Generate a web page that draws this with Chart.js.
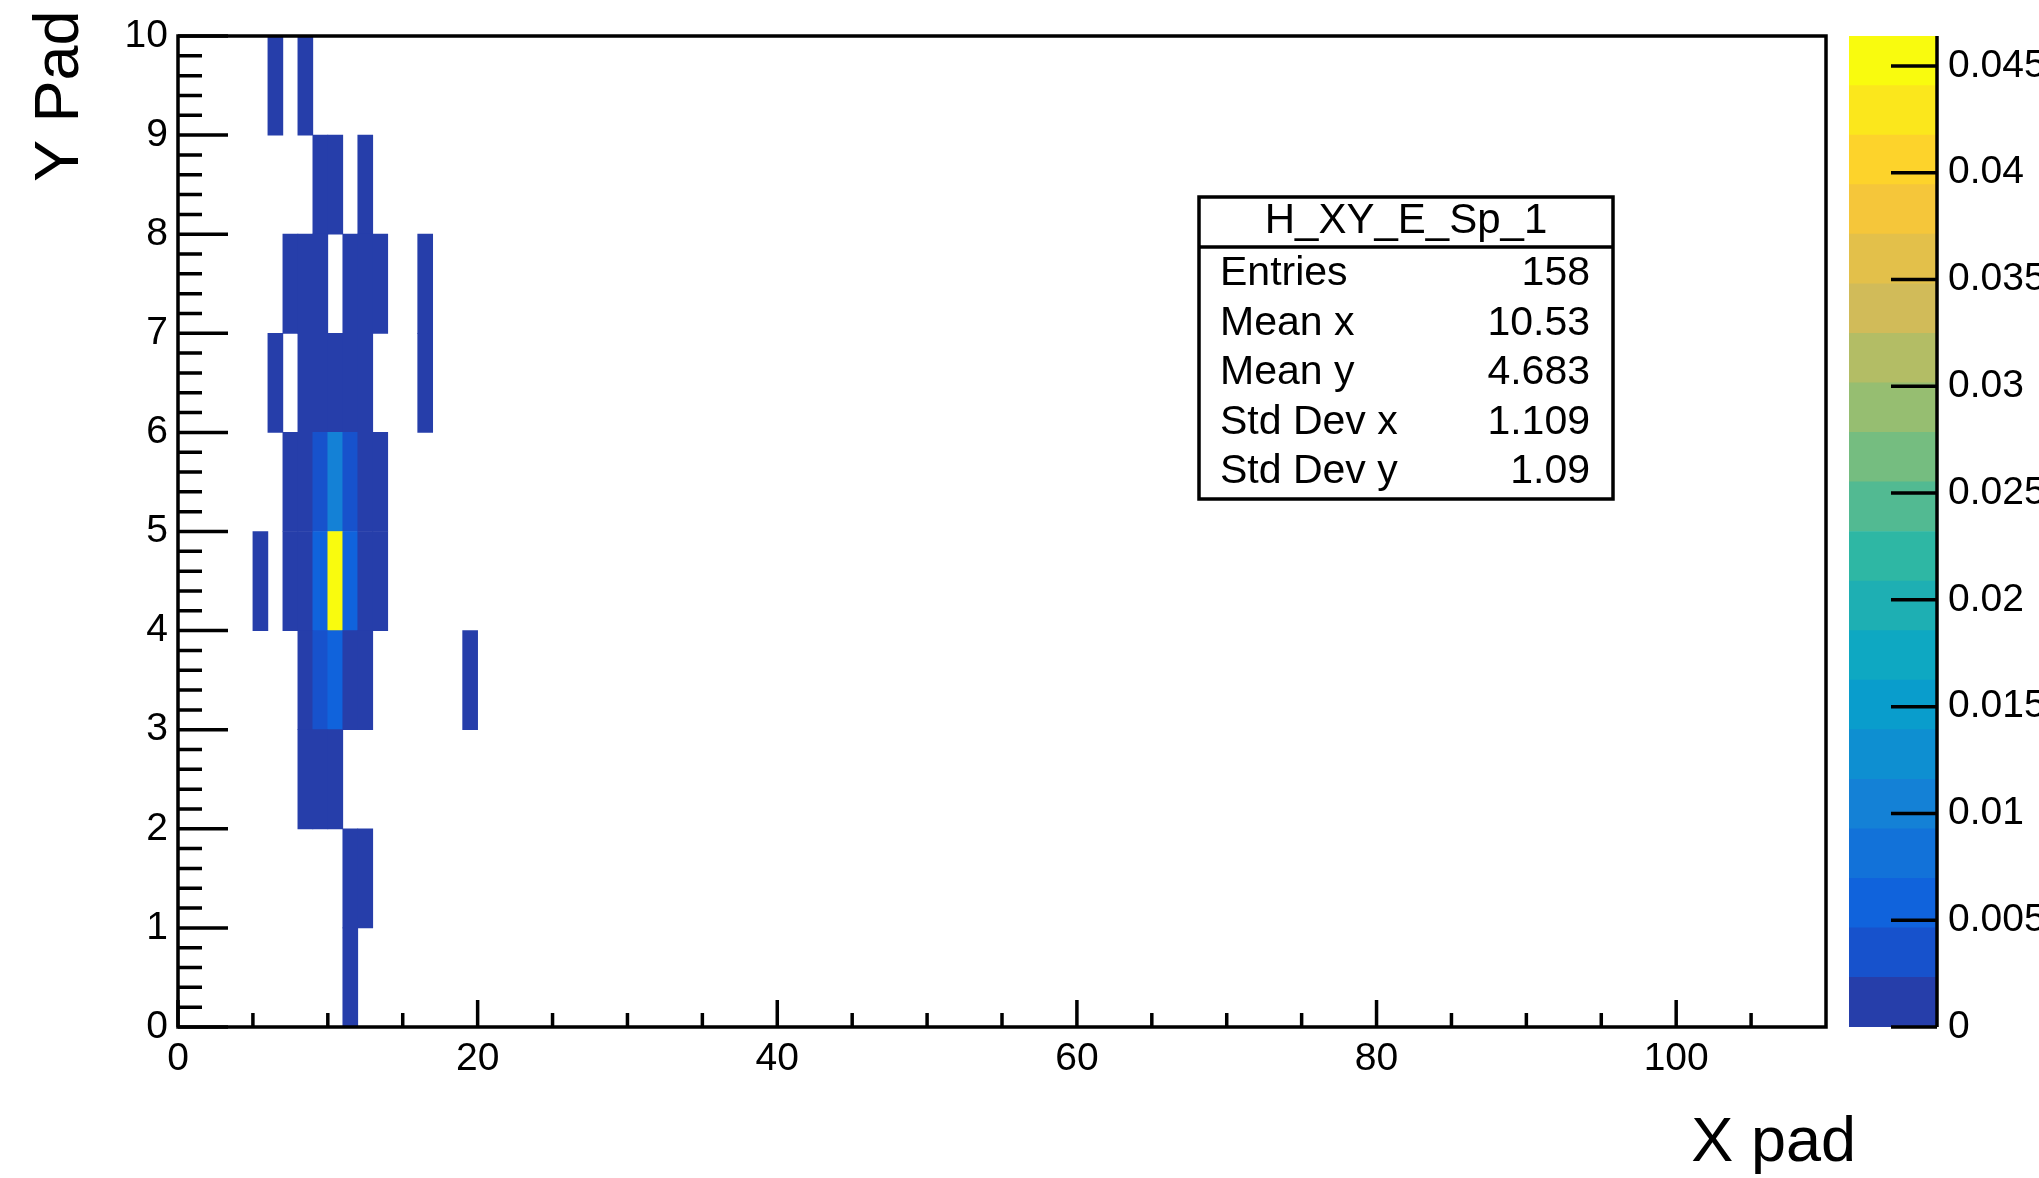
<!DOCTYPE html>
<html>
<head>
<meta charset="utf-8">
<script src="https://cdn.jsdelivr.net/npm/chart.js@4.4.1/dist/chart.umd.min.js"></script>
<style>
  html, body { margin: 0; padding: 0; background: #fff; overflow: hidden; }
  #main { position: absolute; left: 0; top: 0; width: 2039px; height: 1178px; }
  #zbar { position: absolute; left: 1800px; top: 0; width: 239px; height: 1178px; }
</style>
</head>
<body>
<div id="main"><canvas id="histChart"></canvas></div>
<div id="zbar"><canvas id="paletteChart"></canvas></div>
<script>
// H_XY_E_Sp_1 : filled bins (low edge x, low edge y, content)
const xBins = [6, 8,
               9, 10, 12,
               7, 8, 9, 11, 12, 13, 16,
               6, 8, 9, 10, 11, 12, 16,
               7, 8, 9, 10, 11, 12, 13,
               5, 7, 8, 9, 10, 11, 12, 13,
               8, 9, 10, 11, 12, 19,
               8, 9, 10,
               11, 12,
               11];
const yBins = [9, 9,
               8, 8, 8,
               7, 7, 7, 7, 7, 7, 7,
               6, 6, 6, 6, 6, 6, 6,
               5, 5, 5, 5, 5, 5, 5,
               4, 4, 4, 4, 4, 4, 4, 4,
               3, 3, 3, 3, 3, 3,
               2, 2, 2,
               1, 1,
               0];
const zValues = [0.0009, 0.0012,
                 0.0014, 0.0011, 0.0008,
                 0.0010, 0.0016, 0.0013, 0.0012, 0.0015, 0.0009, 0.0007,
                 0.0008, 0.0017, 0.0020, 0.0018, 0.0019, 0.0014, 0.0008,
                 0.0013, 0.0021, 0.0035, 0.0104, 0.0038, 0.0019, 0.0011,
                 0.0007, 0.0016, 0.0022, 0.0058, 0.0464, 0.0052, 0.0021, 0.0012,
                 0.0015, 0.0031, 0.0063, 0.0020, 0.0013, 0.0006,
                 0.0012, 0.0018, 0.0014,
                 0.0016, 0.0010,
                 0.0009];

const zMax = 0.0464;
// kBird, 20 contour levels
const palette = ["#263eaa", "#1752cc", "#1063dc", "#1272d9", "#1481d6",
                 "#0e8fd1", "#099dcc", "#0ea8c2", "#1eafb3", "#2eb7a4",
                 "#52ba92", "#75bd80", "#96be71", "#b3bd65", "#d1bb59",
                 "#e3c04a", "#f5c63a", "#fdd32b", "#fbe71c", "#f9fb0e"];

const xTicks = [0, 20, 40, 60, 80, 100];
const yTicks = [0, 1, 2, 3, 4, 5, 6, 7, 8, 9, 10];
const zTicks = [0, 0.005, 0.01, 0.015, 0.02, 0.025, 0.03, 0.035, 0.04, 0.045];

const statNames = ["Entries", "Mean x", "Mean y", "Std Dev x", "Std Dev y"];
const statValues = ["158", "10.53", "4.683", "1.109", "1.09"];

Chart.defaults.font.family = "'Liberation Sans', Arial, Helvetica, sans-serif";
Chart.defaults.color = "#000";

function levelColor(v) {
    const k = Math.min(palette.length - 1, Math.floor(v / zMax * palette.length));
    return palette[k];
}

// ROOT style frame, inner ticks, stats box and axis titles
const rootFrame = {
    id: "rootFrame",
    afterDraw(chart) {
        const { ctx, chartArea: a, scales: { x, y } } = chart;
        ctx.save();
        ctx.strokeStyle = "#000";
        ctx.lineWidth = 3.5;
        ctx.beginPath();
        for (let v = 0; v < 110; v += 5) {
            const px = x.getPixelForValue(v);
            const len = v % 20 === 0 ? 27 : 14;
            ctx.moveTo(px, a.bottom);
            ctx.lineTo(px, a.bottom - len);
        }
        for (let i = 0; i <= 50; i++) {
            const py = y.getPixelForValue(i / 5);
            const len = i % 5 === 0 ? 50 : 24;
            ctx.moveTo(a.left, py);
            ctx.lineTo(a.left + len, py);
        }
        ctx.stroke();
        ctx.strokeRect(a.left, a.top, a.right - a.left, a.bottom - a.top);

        // stats box
        const bx = 1199, by = 197, bw = 414, bh = 302;
        ctx.fillStyle = "#fff";
        ctx.fillRect(bx, by, bw, bh);
        ctx.strokeRect(bx, by, bw, bh);
        ctx.beginPath();
        ctx.moveTo(bx, 247);
        ctx.lineTo(bx + bw, 247);
        ctx.stroke();
        ctx.fillStyle = "#000";
        ctx.font = "42px 'Liberation Sans', Arial, sans-serif";
        ctx.textBaseline = "alphabetic";
        ctx.textAlign = "center";
        ctx.fillText("H_XY_E_Sp_1", bx + bw / 2, 233);
        ctx.font = "41px 'Liberation Sans', Arial, sans-serif";
        statNames.forEach((name, i) => {
            const yy = 285 + i * 49.5;
            ctx.textAlign = "left";
            ctx.fillText(name, 1220, yy);
            ctx.textAlign = "right";
            ctx.fillText(statValues[i], 1590, yy);
        });

        // axis titles
        ctx.font = "63px 'Liberation Sans', Arial, sans-serif";
        ctx.textAlign = "right";
        ctx.fillText("X pad", 1856, 1161);
        ctx.translate(78, 182);
        ctx.rotate(-Math.PI / 2);
        ctx.textAlign = "left";
        ctx.fillText("Y Pad", 0, 0);
        ctx.restore();
    }
};

new Chart(document.getElementById("histChart"), {
    type: "bar",
    data: {
        datasets: [
            {
                data: xBins.map((xb, i) => ({ x: xb + 0.5, y: [yBins[i], yBins[i] + 1], z: zValues[i] })),
                backgroundColor: c => (c.raw ? levelColor(c.raw.z) : palette[0]),
                borderWidth: 0,
                barPercentage: 1,
                categoryPercentage: 1,
            },
        ],
    },
    options: {
        responsive: true,
        maintainAspectRatio: false,
        animation: false,
        events: [],
        layout: { padding: { left: 0, top: 36, right: 213, bottom: 0 } },
        plugins: { legend: { display: false }, tooltip: { enabled: false } },
        scales: {
            x: {
                type: "linear",
                min: 0,
                max: 110,
                offset: false,
                grid: { display: false, drawTicks: false },
                border: { display: false },
                afterFit: s => { s.height = 151; },
                afterBuildTicks: s => { s.ticks = xTicks.map(v => ({ value: v })); },
                ticks: { padding: 9, maxRotation: 0, autoSkip: false, font: { size: 39 } },
            },
            y: {
                min: 0,
                max: 10,
                grid: { display: false, drawTicks: false },
                border: { display: false },
                afterFit: s => { s.width = 178; },
                afterBuildTicks: s => { s.ticks = yTicks.map(v => ({ value: v })); },
                ticks: { padding: 10, font: { size: 39 } },
            },
        },
    },
    plugins: [rootFrame],
});

// colour palette axis on the right
const paletteAxis = {
    id: "paletteAxis",
    afterDraw(chart) {
        const { ctx, chartArea: a, scales: { y } } = chart;
        ctx.save();
        ctx.strokeStyle = "#000";
        ctx.lineWidth = 3.5;
        ctx.beginPath();
        ctx.moveTo(a.right, a.top);
        ctx.lineTo(a.right, a.bottom);
        zTicks.forEach(v => {
            const py = y.getPixelForValue(v);
            ctx.moveTo(a.right, py);
            ctx.lineTo(a.right - 46, py);
        });
        ctx.stroke();
        ctx.restore();
    }
};

new Chart(document.getElementById("paletteChart"), {
    type: "bar",
    data: {
        labels: [""],
        datasets: palette.map(col => ({
            data: [zMax / palette.length],
            backgroundColor: col,
            borderWidth: 0,
            barPercentage: 1,
            categoryPercentage: 1,
        })),
    },
    options: {
        responsive: true,
        maintainAspectRatio: false,
        animation: false,
        events: [],
        layout: { padding: { left: 49, top: 36, right: 0, bottom: 151 } },
        plugins: { legend: { display: false }, tooltip: { enabled: false } },
        scales: {
            x: { display: false, stacked: true },
            y: {
                stacked: true,
                position: "right",
                min: 0,
                max: zMax,
                grid: { display: false, drawTicks: false },
                border: { display: false },
                afterFit: s => { s.width = 102; },
                afterBuildTicks: s => { s.ticks = zTicks.map(v => ({ value: v })); },
                ticks: {
                    padding: 11,
                    font: { size: 39 },
                    callback: v => String(+v.toFixed(3)),
                },
            },
        },
    },
    plugins: [paletteAxis],
});
</script>
</body>
</html>
